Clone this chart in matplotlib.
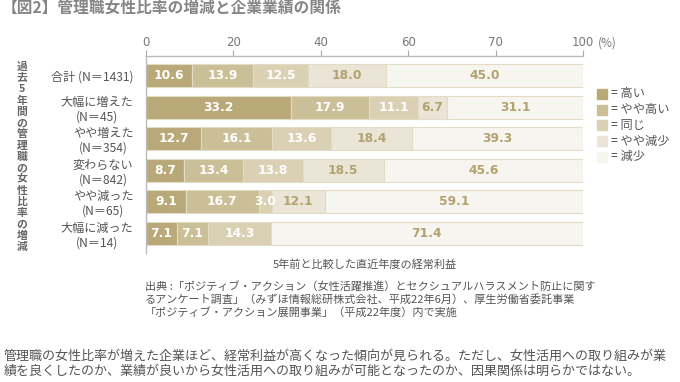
import matplotlib
matplotlib.use("Agg")
import matplotlib.pyplot as plt
import numpy as np

plt.rcParams['font.family'] = ['Noto Sans CJK JP', 'DejaVu Sans']

title = "【図2】管理職女性比率の増減と企業業績の関係"
categories = ["合計 (N＝1431)", "大幅に増えた\n(N＝45)", "やや増えた\n(N＝354)",
              "変わらない\n(N＝842)", "やや減った\n(N＝65)", "大幅に減った\n(N＝14)"]
series_names = ["高い", "やや高い", "同じ", "やや減少", "減少"]
high = [10.6, 33.2, 12.7, 8.7, 9.1, 7.1]
slightly_high = [13.9, 17.9, 16.1, 13.4, 16.7, 7.1]
same = [12.5, 11.1, 13.6, 13.8, 3.0, 14.3]
slightly_down = [18.0, 6.7, 18.4, 18.5, 12.1, 0.0]
down = [45.0, 31.1, 39.3, 45.6, 59.1, 71.4]
tick_values = [0, 20, 40, 60, 80, 100]
tick_labels = ["0", "20", "40", "60", "70", "100"]
ylabel = "過去5年間の管理職の女性比率の増減"
xlabel = "5年前と比較した直近年度の経常利益"
source = ("出典 :「ポジティブ・アクション（女性活躍推進）とセクシュアルハラスメント防止に関す\n"
          "るアンケート調査」（みずほ情報総研株式会社、平成22年6月）、厚生労働省委託事業\n"
          "「ポジティブ・アクション展開事業」（平成22年度）内で実施")
note = ("管理職の女性比率が増えた企業ほど、経常利益が高くなった傾向が見られる。ただし、女性活用への取り組みが業\n"
        "績を良くしたのか、業績が良いから女性活用への取り組みが可能となったのか、因果関係は明らかではない。")

colors = ["#b9a978", "#cbbf97", "#dad1b5", "#ebe5d8", "#f7f5ef"]
label_colors = ["white", "white", "white", "#b3a26f", "#b3a26f"]

W, H = 680, 382
fig = plt.figure(figsize=(W / 100, H / 100), dpi=100)
fig.patch.set_facecolor("white")

ax_l, ax_r, ax_t, ax_b = 146, 583, 56, 253
ax = fig.add_axes([ax_l / W, 1 - ax_b / H, (ax_r - ax_l) / W, (ax_b - ax_t) / H])

series = [high, slightly_high, same, slightly_down, down]
y = np.arange(len(categories))
left = np.zeros(len(categories))
for i, vals in enumerate(series):
    vals = np.array(vals)
    ax.barh(y, vals, left=left, height=0.73, color=colors[i],
            edgecolor="#e2dbc6", linewidth=0.8)
    for j, v in enumerate(vals):
        if v > 0:
            ax.text(left[j] + v / 2, y[j], f"{v:.1f}", ha="center", va="center",
                    fontsize=8.8, fontweight="bold", color=label_colors[i],
                    family="DejaVu Sans")
    left += vals

ax.set_xlim(0, 100)
ax.set_ylim(len(categories) - 0.38, -0.62)
ax.xaxis.tick_top()
ax.set_xticks(tick_values)
ax.set_xticklabels(tick_labels, fontsize=8.5, color="#777777", family="DejaVu Sans")
ax.tick_params(axis="x", length=4, color="#aaaaaa", pad=1)
ax.set_yticks(y)
ax.set_yticklabels(categories, fontsize=8.7, color="#555555", multialignment="center",
                   linespacing=1.15)
ax.tick_params(axis="y", length=0, pad=9)
ax.annotate("(%)", xy=(100, 1.0), xycoords=("data", "axes fraction"),
            xytext=(11, 5), textcoords="offset points", ha="left", va="bottom",
            fontsize=8.5, color="#777777")
for s in ["right", "bottom"]:
    ax.spines[s].set_visible(False)
ax.spines["top"].set_color("#bbbbbb")
ax.spines["left"].set_color("#bbbbbb")
ax.spines["top"].set_linewidth(1.0)
ax.spines["left"].set_linewidth(1.0)

# Legend
for i, name in enumerate(series_names):
    yy = 94 + i * 15.7
    fig.patches.append(plt.Rectangle((597 / W, 1 - (yy + 5) / H), 10 / W, 10 / H,
                                     transform=fig.transFigure, color=colors[i]))
    fig.text(611 / W, 1 - yy / H, "= " + name, fontsize=8.8, color="#555555",
             ha="left", va="center")

# Title
fig.text(2 / W, 1 - 9 / H, title, fontsize=11.3, fontweight="bold", color="#858585",
         ha="left", va="center")

# Vertical y label
chars = list(ylabel)
y0, y1 = 67, 247
for k, ch in enumerate(chars):
    yy = y0 + (y1 - y0) * k / (len(chars) - 1)
    fig.text(22 / W, 1 - yy / H, ch, fontsize=7.8, fontweight="bold", color="#666666",
             ha="center", va="center")

fig.text(365 / W, 1 - 265 / H, xlabel, fontsize=8, color="#555555", ha="center", va="center")
fig.text(145 / W, 1 - 281 / H, source, fontsize=8, color="#555555", ha="left", va="top",
         linespacing=1.25)
fig.text(4 / W, 1 - 350 / H, note, fontsize=9.4, color="#555555", ha="left", va="top",
         linespacing=1.2)

fig.savefig("out.png", dpi=100, facecolor="white")
